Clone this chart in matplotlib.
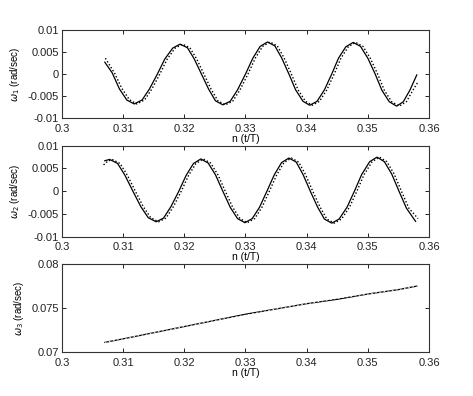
import matplotlib
matplotlib.use("Agg")
import matplotlib.pyplot as plt

# ---------------------------------------------------------------------------
# data
# ---------------------------------------------------------------------------
n1_solid = [0.3070, 0.3082, 0.3094, 0.3106, 0.3118, 0.3131, 0.3143, 0.3156,
            0.3168, 0.3181, 0.3193, 0.3205, 0.3216, 0.3228, 0.3240, 0.3251,
            0.3263, 0.3275, 0.3287, 0.3300, 0.3312, 0.3324, 0.3336, 0.3348,
            0.3359, 0.3371, 0.3382, 0.3394, 0.3405, 0.3417, 0.3429, 0.3441,
            0.3452, 0.3464, 0.3476, 0.3488, 0.3500, 0.3512, 0.3523, 0.3535,
            0.3547, 0.3558, 0.3569, 0.3580]
w1_solid = [0.0027, 0.0003, -0.0034, -0.0059, -0.0068, -0.0059, -0.0034, 0.0000,
            0.0034, 0.0059, 0.0068, 0.0060, 0.0035, 0.0000, -0.0035, -0.0061,
            -0.0070, -0.0062, -0.0036, 0.0000, 0.0036, 0.0063, 0.0073, 0.0064,
            0.0037, 0.0000, -0.0036, -0.0062, -0.0071, -0.0062, -0.0036, 0.0000,
            0.0036, 0.0062, 0.0072, 0.0063, 0.0036, 0.0000, -0.0037, -0.0063,
            -0.0073, -0.0063, -0.0036, -0.0002]

n1_dot = [0.3071, 0.3086, 0.3098, 0.3110, 0.3122, 0.3135, 0.3147, 0.3160,
          0.3172, 0.3185, 0.3197, 0.3209, 0.3220, 0.3232, 0.3244, 0.3255,
          0.3267, 0.3279, 0.3291, 0.3304, 0.3316, 0.3328, 0.3340, 0.3352,
          0.3363, 0.3375, 0.3386, 0.3398, 0.3409, 0.3421, 0.3433, 0.3445,
          0.3456, 0.3468, 0.3480, 0.3492, 0.3504, 0.3516, 0.3527, 0.3539,
          0.3551, 0.3563, 0.3574, 0.3582]
w1_dot = [0.0036, 0.0002, -0.0033, -0.0058, -0.0068, -0.0059, -0.0034, 0.0000,
          0.0034, 0.0059, 0.0068, 0.0060, 0.0035, 0.0000, -0.0035, -0.0061,
          -0.0070, -0.0062, -0.0036, 0.0000, 0.0036, 0.0063, 0.0073, 0.0064,
          0.0037, 0.0000, -0.0036, -0.0062, -0.0071, -0.0062, -0.0036, 0.0000,
          0.0036, 0.0062, 0.0072, 0.0063, 0.0036, 0.0000, -0.0037, -0.0063,
          -0.0073, -0.0063, -0.0036, -0.0018]

n2_solid = [0.3070, 0.3078, 0.3091, 0.3103, 0.3116, 0.3129, 0.3141, 0.3154,
            0.3166, 0.3178, 0.3191, 0.3203, 0.3215, 0.3227, 0.3239, 0.3251,
            0.3263, 0.3275, 0.3287, 0.3299, 0.3311, 0.3323, 0.3335, 0.3347,
            0.3359, 0.3371, 0.3383, 0.3394, 0.3406, 0.3418, 0.3429, 0.3441,
            0.3453, 0.3466, 0.3478, 0.3490, 0.3503, 0.3515, 0.3527, 0.3539,
            0.3551, 0.3563, 0.3578]
w2_solid = [0.0067, 0.0070, 0.0061, 0.0035, 0.0000, -0.0034, -0.0058, -0.0067,
            -0.0059, -0.0034, 0.0000, 0.0035, 0.0061, 0.0071, 0.0062, 0.0036,
            0.0000, -0.0035, -0.0060, -0.0069, -0.0060, -0.0035, 0.0000, 0.0036,
            0.0063, 0.0073, 0.0064, 0.0037, 0.0000, -0.0035, -0.0061, -0.0070,
            -0.0061, -0.0035, 0.0000, 0.0037, 0.0065, 0.0075, 0.0065, 0.0038,
            0.0000, -0.0037, -0.0066]

n2_dot = [0.3068, 0.3074, 0.3082, 0.3095, 0.3107, 0.3120, 0.3133, 0.3145,
          0.3158, 0.3170, 0.3182, 0.3195, 0.3207, 0.3219, 0.3231, 0.3243,
          0.3255, 0.3267, 0.3279, 0.3291, 0.3303, 0.3315, 0.3327, 0.3339,
          0.3351, 0.3363, 0.3375, 0.3387, 0.3398, 0.3410, 0.3422, 0.3433,
          0.3445, 0.3457, 0.3470, 0.3482, 0.3494, 0.3507, 0.3519, 0.3531,
          0.3543, 0.3555, 0.3567, 0.3582]
w2_dot = [0.0058, 0.0065, 0.0070, 0.0061, 0.0035, 0.0000, -0.0034, -0.0058,
          -0.0067, -0.0059, -0.0034, 0.0000, 0.0035, 0.0061, 0.0071, 0.0062,
          0.0036, 0.0000, -0.0035, -0.0060, -0.0069, -0.0060, -0.0035, 0.0000,
          0.0036, 0.0063, 0.0073, 0.0064, 0.0037, 0.0000, -0.0035, -0.0061,
          -0.0070, -0.0061, -0.0035, 0.0000, 0.0037, 0.0065, 0.0075, 0.0065,
          0.0038, 0.0000, -0.0037, -0.0060]

n3_solid = [0.307, 0.310, 0.315, 0.320, 0.325, 0.330, 0.335, 0.340, 0.345,
            0.350, 0.355, 0.358]
w3_solid = [0.0711, 0.0715, 0.0722, 0.0729, 0.0736, 0.0743, 0.0749, 0.0755,
            0.0760, 0.0766, 0.0771, 0.0775]
n3_dash = [0.307, 0.310, 0.315, 0.320, 0.325, 0.330, 0.335, 0.340, 0.345,
           0.350, 0.355, 0.358]
w3_dash = [0.0711, 0.0715, 0.0722, 0.0729, 0.0736, 0.0742, 0.0749, 0.0755,
           0.0761, 0.0766, 0.0771, 0.0775]

x_ticks = [0.30, 0.31, 0.32, 0.33, 0.34, 0.35, 0.36]
x_labels = ["0.3", "0.31", "0.32", "0.33", "0.34", "0.35", "0.36"]
osc_ticks = [-0.01, -0.005, 0, 0.005, 0.01]
osc_labels = ["-0.01", "-0.005", "0", "0.005", "0.01"]
w3_ticks = [0.07, 0.075, 0.08]
w3_labels = ["0.07", "0.075", "0.08"]

plt.rcParams["font.family"] = ["Liberation Sans", "DejaVu Sans"]
plt.rcParams["mathtext.fontset"] = "dejavusans"

fig = plt.figure(figsize=(4.73, 3.96), dpi=100)
fig.patch.set_facecolor("white")

left, width = 0.131, 0.776
ax1 = fig.add_axes([left, 0.702, width, 0.222])
ax2 = fig.add_axes([left, 0.402, width, 0.230])
ax3 = fig.add_axes([left, 0.111, width, 0.222])

ax1.plot(n1_solid, w1_solid, color="black", lw=0.9)
ax1.plot(n1_dot, w1_dot, color="black", lw=1.0, ls=(0, (1, 1.5)))
ax2.plot(n2_solid, w2_solid, color="black", lw=0.9)
ax2.plot(n2_dot, w2_dot, color="black", lw=1.0, ls=(0, (1, 1.5)))
ax3.plot(n3_solid, w3_solid, color="black", lw=0.9)
ax3.plot(n3_dash, w3_dash, color="white", lw=0.6, ls=(0, (2, 3)))

for ax, yt, yl, lim, name in [
    (ax1, osc_ticks, osc_labels, (-0.01, 0.01), r"$\omega_1$ (rad/sec)"),
    (ax2, osc_ticks, osc_labels, (-0.01, 0.01), r"$\omega_2$ (rad/sec)"),
    (ax3, w3_ticks, w3_labels, (0.07, 0.08), r"$\omega_3$ (rad/sec)"),
]:
    ax.set_xlim(0.30, 0.36)
    ax.set_ylim(*lim)
    ax.set_xticks(x_ticks)
    ax.set_xticklabels(x_labels)
    ax.set_yticks(yt)
    ax.set_yticklabels(yl)
    ax.tick_params(direction="in", length=3, width=0.7, labelsize=8,
                   top=True, right=True, colors="#222222")
    ax.tick_params(axis="x", pad=4)
    ax.tick_params(axis="y", pad=2)
    for sp in ax.spines.values():
        sp.set_linewidth(0.8)
        sp.set_color("#333333")
    ax.set_xlabel("n (t/T)", fontsize=7.5, labelpad=0)
    ax.set_ylabel(name, fontsize=7, labelpad=4)

fig.savefig("out.png", dpi=100, facecolor="white")
